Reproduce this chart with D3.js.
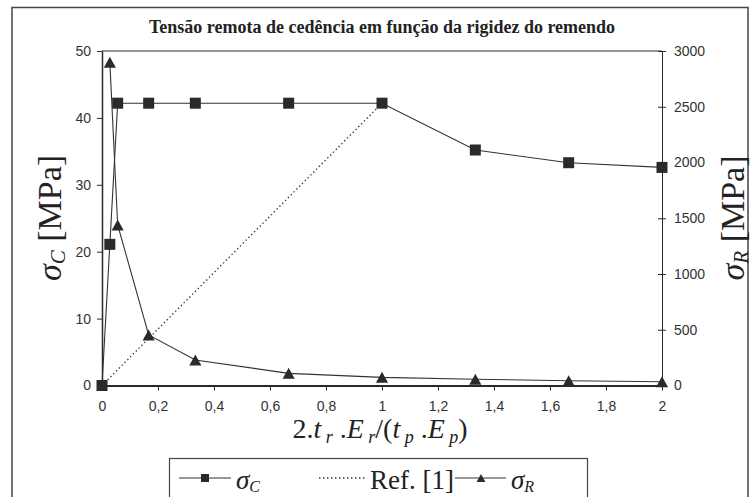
<!DOCTYPE html>
<html><head><meta charset="utf-8">
<script src="https://cdn.jsdelivr.net/npm/d3@7"></script>
<style>body{margin:0;background:#fff}</style>
</head><body><svg id="chart" width="755" height="497"></svg>
<script>
// Remote yield stress vs. patch stiffness
const xC = [0, 0.028, 0.056, 1/6, 1/3, 2/3, 1, 4/3, 5/3, 2];
const sigmaC = [0, 21.1, 42.2, 42.2, 42.2, 42.2, 42.2, 35.2, 33.3, 32.6];
const xR = [0.028, 0.056, 1/6, 1/3, 2/3, 1, 4/3, 5/3, 2];
const sigmaR = [2900, 1440, 453, 229, 109, 73, 56, 43, 34];
const xRef = [0, 1];
const refValues = [0, 42.2];
const xTicks = [0, 0.2, 0.4, 0.6, 0.8, 1, 1.2, 1.4, 1.6, 1.8, 2];
const leftTicks = [0, 10, 20, 30, 40, 50];
const rightTicks = [0, 500, 1000, 1500, 2000, 2500, 3000];
const titleText = "Tensão remota de cedência em função da rigidez do remendo";

const svg = d3.select("#chart");
const ink = "#2a2a2a";
const serif = "'Liberation Serif', 'Times New Roman', serif";
const sans = "'Liberation Sans', Arial, sans-serif";
const L = 102, R = 662, T = 51, B = 385.5;

const x = d3.scaleLinear().domain([0, 2]).range([L, R]);
const yL = d3.scaleLinear().domain([0, 50]).range([B, T]);
const yR = d3.scaleLinear().domain([0, 3000]).range([B, T]);

// outer frame
svg.append("rect").attr("x", 12).attr("y", 7.5).attr("width", 736).attr("height", 520)
  .attr("fill", "none").attr("stroke", "#444").attr("stroke-width", 1.5);

// title
svg.append("text").attr("x", 382).attr("y", 33).attr("text-anchor", "middle")
  .attr("font-family", serif).attr("font-weight", "bold").attr("font-size", 18)
  .attr("fill", "#222").text(titleText);

const fmt = d => d3.format(".1~f")(d).replace(".", ",");

// axes
const gx = svg.append("g").attr("transform", `translate(0,${B})`)
  .call(d3.axisBottom(x).tickValues(xTicks).tickFormat(fmt).tickSize(5).tickSizeOuter(0).tickPadding(11));
const gl = svg.append("g").attr("transform", `translate(${L},0)`)
  .call(d3.axisLeft(yL).tickValues(leftTicks).tickFormat(d3.format("d")).tickSize(5).tickSizeOuter(0).tickPadding(6));
const gr = svg.append("g").attr("transform", `translate(${R},0)`)
  .call(d3.axisRight(yR).tickValues(rightTicks).tickFormat(d3.format("d")).tickSize(4).tickSizeOuter(0).tickPadding(8));
gr.selectAll(".tick line").attr("x1", -4);
[gx, gl, gr].forEach(g => {
  g.selectAll("text").attr("font-family", sans).attr("font-size", 14).attr("fill", "#333");
  g.selectAll("line").attr("stroke", ink);
  g.select(".domain").attr("stroke", ink);
});
gx.select(".domain").attr("stroke-width", 2.2);
gl.select(".domain").attr("stroke-width", 1.5);
// top edge of plot area
svg.append("line").attr("x1", L).attr("x2", R).attr("y1", T).attr("y2", T)
  .attr("stroke", ink).attr("stroke-width", 1);

// series
const line = (xs, ys, yScale) => d3.line().x((d, i) => x(xs[i])).y(d => yScale(d))(ys);
svg.append("path").attr("d", line(xC, sigmaC, yL)).attr("fill", "none").attr("stroke", "#333").attr("stroke-width", 1.1);
svg.append("path").attr("d", line(xRef, refValues, yL)).attr("fill", "none").attr("stroke", "#333")
  .attr("stroke-width", 1.3).attr("stroke-dasharray", "1.4 2.6");
svg.append("path").attr("d", line(xR, sigmaR, yR)).attr("fill", "none").attr("stroke", "#333").attr("stroke-width", 1.1);

const tri = s => `M0,${-s}L${s * 1.1},${s}L${-s * 1.1},${s}Z`;
svg.selectAll(".sq").data(sigmaC).join("rect").attr("class", "sq")
  .attr("x", (d, i) => x(xC[i]) - 5.5).attr("y", d => yL(d) - 5.5)
  .attr("width", 11).attr("height", 11).attr("fill", ink);
svg.selectAll(".tri").data(sigmaR).join("path").attr("class", "tri")
  .attr("transform", (d, i) => `translate(${x(xR[i])},${yR(d)})`)
  .attr("d", tri(5.5)).attr("fill", ink);

// axis titles
function sigmaLabel(g, sub, size) {
  const t = g.append("text").attr("font-family", serif).attr("font-size", size).attr("fill", "#222")
    .attr("text-anchor", "middle");
  t.append("tspan").attr("font-style", "italic").text("σ");
  t.append("tspan").attr("font-style", "italic").attr("font-size", size * 0.62).attr("dy", size * 0.12).text(sub);
  t.append("tspan").attr("dy", -size * 0.12).text(" [MPa]");
  return t;
}
sigmaLabel(svg.append("g").attr("transform", "translate(61,218) rotate(-90)"), "C", 34);
sigmaLabel(svg.append("g").attr("transform", "translate(744,218) rotate(-90)"), "R", 34);

// x title: 2.t_r.E_r/(t_p.E_p)
const xt = svg.append("text").attr("x", 380).attr("y", 438).attr("text-anchor", "middle")
  .attr("font-family", serif).attr("font-size", 28).attr("fill", "#222");
const parts = [["2.", 0, false], ["t", 0, true], [" r", 1, true], [" .", 0, false], ["E", 0, true], [" r", 1, true],
  ["/(", 0, false], ["t", 0, true], [" p", 1, true], [" .", 0, false], ["E", 0, true], [" p", 1, true], [")", 0, false]];
let prevSub = 0;
parts.forEach(([s, sub, it]) => {
  const tsp = xt.append("tspan").text(s).attr("font-style", it ? "italic" : "normal");
  if (sub) tsp.attr("font-size", 18);
  const dy = (sub - prevSub) * 5;
  if (dy) tsp.attr("dy", dy);
  prevSub = sub;
});

// legend
const lg = svg.append("g");
lg.append("rect").attr("x", 169.5).attr("y", 458.5).attr("width", 418).attr("height", 60)
  .attr("fill", "#fff").attr("stroke", "#444").attr("stroke-width", 1.2);
const ly = 478;
lg.append("line").attr("x1", 179).attr("x2", 231).attr("y1", ly).attr("y2", ly).attr("stroke", "#333").attr("stroke-width", 1.1);
lg.append("rect").attr("x", 201).attr("y", ly - 4).attr("width", 8).attr("height", 8).attr("fill", ink);
lg.append("line").attr("x1", 319).attr("x2", 367).attr("y1", ly).attr("y2", ly).attr("stroke", "#333")
  .attr("stroke-width", 1.3).attr("stroke-dasharray", "1.4 2.6");
lg.append("line").attr("x1", 455).attr("x2", 506).attr("y1", ly).attr("y2", ly).attr("stroke", "#333").attr("stroke-width", 1.1);
lg.append("path").attr("transform", `translate(481,${ly})`).attr("d", tri(4)).attr("fill", ink);
function legendText(xp, main, sub) {
  const t = lg.append("text").attr("x", xp).attr("y", 489).attr("font-family", serif)
    .attr("font-size", 27).attr("fill", "#222");
  if (sub) {
    t.append("tspan").attr("font-style", "italic").text(main);
    t.append("tspan").attr("font-style", "italic").attr("font-size", 16).attr("dy", 3).text(sub);
  } else t.text(main);
}
legendText(236, "σ", "C");
legendText(370, "Ref. [1]");
legendText(511, "σ", "R");
</script></body></html>
